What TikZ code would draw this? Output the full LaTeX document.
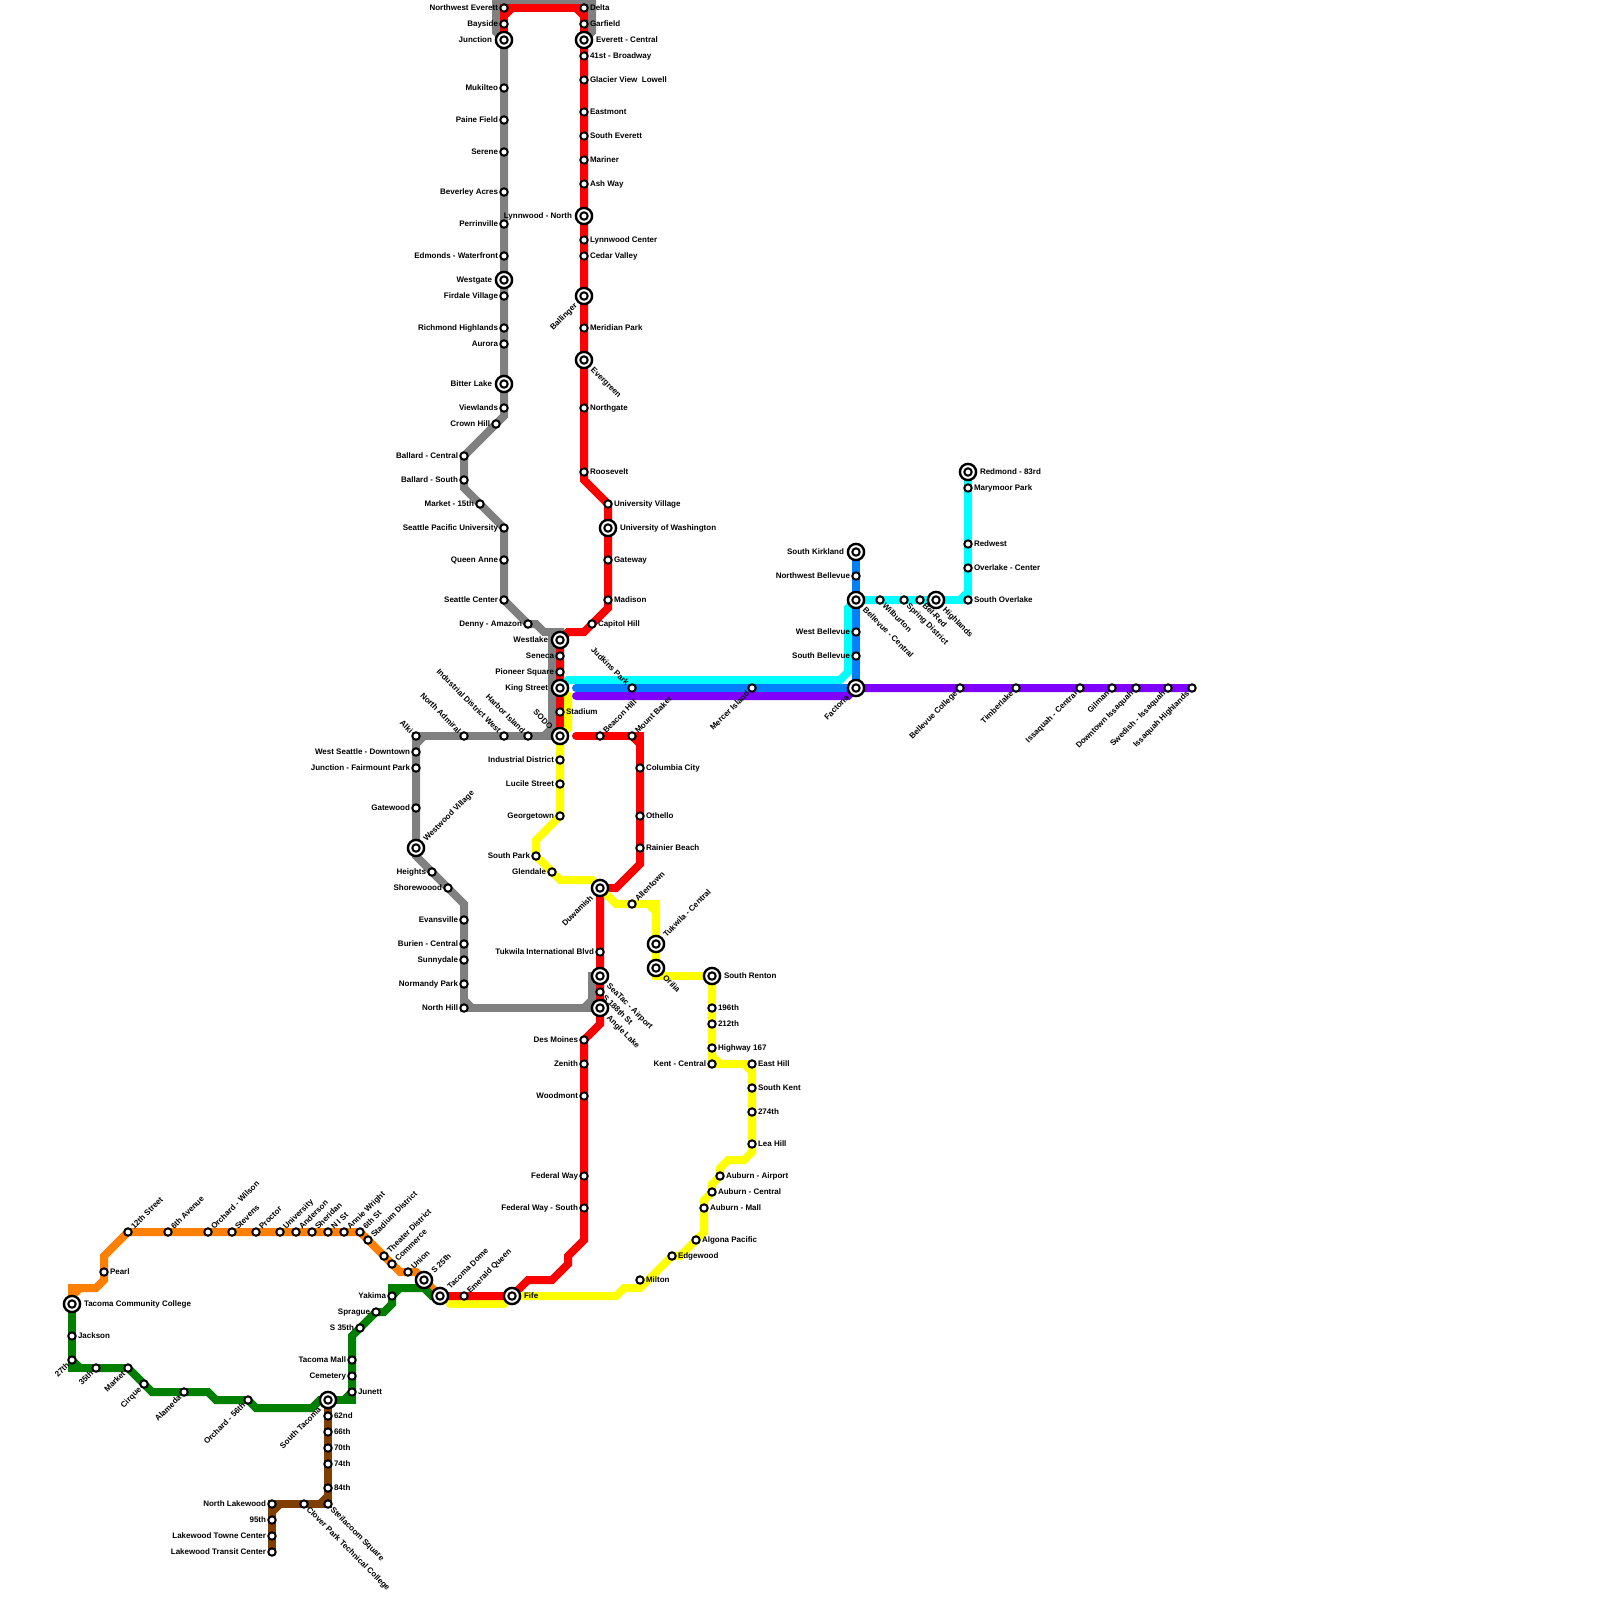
\documentclass[tikz,border=0pt]{standalone}
\usepackage{fontspec}
\setmainfont{Liberation Sans}
\usetikzlibrary{calc}
\definecolor{mblue}{HTML}{007FFF}
\definecolor{mpurple}{HTML}{7F00FF}
\definecolor{morange}{HTML}{FF7F00}
\definecolor{mgreen}{HTML}{007F00}
\definecolor{mbrown}{HTML}{7F3F00}
\definecolor{mred}{HTML}{FF0000}
\definecolor{myellow}{HTML}{FFFF00}
\definecolor{mcyan}{HTML}{00FFFF}
\definecolor{mgray}{HTML}{808080}
\pgfdeclarelayer{lines}
\pgfsetlayers{lines,main}
\tikzset{
  ln/.style={line width=4pt,line join=miter,miter limit=10},
  stopm/.style={circle,draw=black,fill=white,line width=1pt,minimum size=3.7pt,inner sep=0pt,outer sep=0pt},
  ringm/.style={circle,draw=black,fill=white,line width=1.2pt,minimum size=8.1pt,inner sep=0pt,outer sep=0pt},
  lab/.style={font=\fontsize{4}{4.5}\selectfont\bfseries,text=black,inner sep=0pt,outer sep=0pt,text height=2.9pt,text depth=0pt},
  labr/.style={lab,xshift=\lo,yshift=.35pt,anchor=west},
  labl/.style={lab,xshift=-\lo,yshift=.35pt,anchor=east},
  labne/.style={lab,xshift=.707*\lo,yshift=.707*\lo,rotate=45,anchor=west},
  labsw/.style={lab,xshift=-.707*\lo,yshift=-.707*\lo,rotate=45,anchor=east},
  labse/.style={lab,xshift=.707*\lo,yshift=-.707*\lo,rotate=-45,anchor=west},
  labnw/.style={lab,xshift=-.707*\lo,yshift=.707*\lo,rotate=-45,anchor=east},
}
\newcommand\stn[5]{\node[stopm] (#1) at (#2,#3) {};\def\lo{3pt}\node[lab#4] (#1x) at (#2,#3) {#5};}
\newcommand\istn[5]{\node[ringm] (#1o) at (#2,#3) {};\node[stopm] (#1) at (#2,#3) {};\def\lo{6pt}\node[lab#4] (#1x) at (#2,#3) {#5};}
\newcommand\bd[3]{\coordinate (#1) at (#2,#3);}
\newcommand\cutc[4]{\draw[ln,#1] ($(#3)!4pt!(#2)$)--($(#3)!4pt!(#4)$);}
\newcommand\chamf[4]{\draw[ln,#1] (#2)--(#3)--(#4);\cutc{#1}{#2}{#3}{#4}}
\begin{document}
\begin{tikzpicture}[x=.5pt,y=-.5pt]
\useasboundingbox (0,0) rectangle (1600,1600);
% stations: gray
\istn{jct}{504}{40}{l}{Junction}
\stn{muk}{504}{88}{l}{Mukilteo}
\stn{pai}{504}{120}{l}{Paine Field}
\stn{ser}{504}{152}{l}{Serene}
\stn{bev}{504}{192}{l}{Beverley Acres}
\stn{per}{504}{224}{l}{Perrinville}
\stn{edm}{504}{256}{l}{Edmonds - Waterfront}
\istn{wsg}{504}{280}{l}{Westgate}
\stn{fir}{504}{296}{l}{Firdale Village}
\stn{ric}{504}{328}{l}{Richmond Highlands}
\stn{aur}{504}{344}{l}{Aurora}
\istn{bit}{504}{384}{l}{Bitter Lake}
\stn{vie}{504}{408}{l}{Viewlands}
\stn{cro}{496}{424}{l}{Crown Hill}
\stn{bac}{464}{456}{l}{Ballard - Central}
\stn{bas}{464}{480}{l}{Ballard - South}
\stn{mar}{480}{504}{l}{Market - 15th}
\stn{spu}{504}{528}{l}{Seattle Pacific University}
\stn{qan}{504}{560}{l}{Queen Anne}
\stn{sec}{504}{600}{l}{Seattle Center}
\stn{den}{528}{624}{l}{Denny - Amazon}
\istn{wlk}{560}{640}{l}{Westlake}
\stn{sen}{560}{656}{l}{Seneca}
\stn{pio}{560}{672}{l}{Pioneer Square}
\istn{kng}{560}{688}{l}{King Street}
\stn{sta}{560}{712}{r}{Stadium}
\istn{sod}{560}{736}{nw}{SODO}
\stn{har}{528}{736}{nw}{Harbor Island}
\stn{idw}{504}{736}{nw}{Industrial District West}
\stn{nad}{464}{736}{nw}{North Admiral}
\stn{alk}{416}{736}{nw}{Alki}
\stn{wsd}{416}{752}{l}{West Seattle - Downtown}
\stn{jfp}{416}{768}{l}{Junction - Fairmount Park}
\stn{gat}{416}{808}{l}{Gatewood}
\istn{wwv}{416}{848}{ne}{Westwood Village}
\stn{hei}{432}{872}{l}{Heights}
\stn{sho}{448}{888}{l}{Shorewoood}
\stn{eva}{464}{920}{l}{Evansville}
\stn{bur}{464}{944}{l}{Burien - Central}
\stn{sun}{464}{960}{l}{Sunnydale}
\stn{nor}{464}{984}{l}{Normandy Park}
\stn{nhi}{464}{1008}{l}{North Hill}
% stations: red
\stn{nwe}{504}{8}{l}{Northwest Everett}
\stn{bay}{504}{24}{l}{Bayside}
\stn{del}{584}{8}{r}{Delta}
\stn{gar}{584}{24}{r}{Garfield}
\istn{eve}{584}{40}{r}{Everett - Central}
\stn{bfo}{584}{56}{r}{41st - Broadway}
\stn{gla}{584}{80}{r}{Glacier View\ \ Lowell}
\stn{eas}{584}{112}{r}{Eastmont}
\stn{sev}{584}{136}{r}{South Everett}
\stn{mrn}{584}{160}{r}{Mariner}
\stn{ash}{584}{184}{r}{Ash Way}
\istn{lyn}{584}{216}{l}{Lynnwood - North}
\stn{lyc}{584}{240}{r}{Lynnwood Center}
\stn{ced}{584}{256}{r}{Cedar Valley}
\istn{bal}{584}{296}{sw}{Ballinger}
\stn{mer}{584}{328}{r}{Meridian Park}
\istn{evg}{584}{360}{se}{Evergreen}
\stn{nog}{584}{408}{r}{Northgate}
\stn{roo}{584}{472}{r}{Roosevelt}
\stn{uvi}{608}{504}{r}{University Village}
\istn{uwa}{608}{528}{r}{University of Washington}
\stn{gwy}{608}{560}{r}{Gateway}
\stn{mad}{608}{600}{r}{Madison}
\stn{cap}{592}{624}{r}{Capitol Hill}
\stn{bec}{600}{736}{ne}{Beacon Hill}
\stn{mba}{632}{736}{ne}{Mount Baker}
\stn{col}{640}{768}{r}{Columbia City}
\stn{oth}{640}{816}{r}{Othello}
\stn{rai}{640}{848}{r}{Rainier Beach}
\istn{duw}{600}{888}{sw}{Duwamish}
\stn{tib}{600}{952}{l}{Tukwila International Blvd}
\istn{sea}{600}{976}{se}{SeaTac - Airport}
\stn{seh}{600}{992}{se}{S 188th St}
\istn{ang}{600}{1008}{se}{Angle Lake}
\stn{des}{584}{1040}{l}{Des Moines}
\stn{zen}{584}{1064}{l}{Zenith}
\stn{woo}{584}{1096}{l}{Woodmont}
\stn{fed}{584}{1176}{l}{Federal Way}
\stn{fes}{584}{1208}{l}{Federal Way - South}
\istn{fif}{512}{1296}{r}{Fife}
\stn{emq}{464}{1296}{ne}{Emerald Queen}
\istn{tdm}{440}{1296}{ne}{Tacoma Dome}
% stations: yellow
\stn{ind}{560}{760}{l}{Industrial District}
\stn{luc}{560}{784}{l}{Lucile Street}
\stn{geo}{560}{816}{l}{Georgetown}
\stn{spk}{536}{856}{l}{South Park}
\stn{gle}{552}{872}{l}{Glendale}
\stn{all}{632}{904}{ne}{Allentown}
\istn{tuk}{656}{944}{ne}{Tukwila - Central}
\istn{ori}{656}{968}{se}{Orilia}
\istn{sre}{712}{976}{r}{South Renton}
\stn{hnn}{712}{1008}{r}{196th}
\stn{htw}{712}{1024}{r}{212th}
\stn{hwy}{712}{1048}{r}{Highway 167}
\stn{ken}{712}{1064}{l}{Kent - Central}
\stn{eah}{752}{1064}{r}{East Hill}
\stn{sok}{752}{1088}{r}{South Kent}
\stn{tsf}{752}{1112}{r}{274th}
\stn{lea}{752}{1144}{r}{Lea Hill}
\stn{aua}{720}{1176}{r}{Auburn - Airport}
\stn{auc}{712}{1192}{r}{Auburn - Central}
\stn{aum}{704}{1208}{r}{Auburn - Mall}
\stn{alg}{696}{1240}{r}{Algona Pacific}
\stn{edg}{672}{1256}{r}{Edgewood}
\stn{mil}{640}{1280}{r}{Milton}
% stations: cyan, blue, purple
\istn{rmd}{968}{472}{r}{Redmond - 83rd}
\stn{mmp}{968}{488}{r}{Marymoor Park}
\stn{rdw}{968}{544}{r}{Redwest}
\stn{ovc}{968}{568}{r}{Overlake - Center}
\stn{ovs}{968}{600}{r}{South Overlake}
\istn{hig}{936}{600}{se}{Highlands}
\stn{bel}{920}{600}{se}{Bel-Red}
\stn{spd}{904}{600}{se}{Spring District}
\stn{wil}{880}{600}{se}{Wilburton}
\istn{bvc}{856}{600}{se}{Bellevue - Central}
\istn{skk}{856}{552}{l}{South Kirkland}
\stn{nwb}{856}{576}{l}{Northwest Bellevue}
\stn{wbv}{856}{632}{l}{West Bellevue}
\stn{sbv}{856}{656}{l}{South Bellevue}
\istn{fac}{856}{688}{sw}{Factoria}
\stn{mrc}{752}{688}{sw}{Mercer Island}
\stn{jud}{632}{688}{nw}{Judkins Park}
\stn{bcl}{960}{688}{sw}{Bellevue College}
\stn{tim}{1016}{688}{sw}{Timberlake}
\stn{isc}{1080}{688}{sw}{Issaquah - Central}
\stn{gil}{1112}{688}{sw}{Gilman}
\stn{dwn}{1136}{688}{sw}{Downtown Issaquah}
\stn{swe}{1168}{688}{sw}{Swedish - Issaquah}
\stn{ish}{1192}{688}{sw}{Issaquah Highlands}
% stations: orange
\istn{tcc}{72}{1304}{r}{Tacoma Community College}
\stn{prl}{104}{1272}{r}{Pearl}
\stn{twe}{128}{1232}{ne}{12th Street}
\stn{sxa}{168}{1232}{ne}{6th Avenue}
\stn{orw}{208}{1232}{ne}{Orchard - Wilson}
\stn{ste}{232}{1232}{ne}{Stevens}
\stn{pro}{256}{1232}{ne}{Proctor}
\stn{uni}{280}{1232}{ne}{University}
\stn{and}{296}{1232}{ne}{Anderson}
\stn{she}{312}{1232}{ne}{Sheridan}
\stn{nis}{328}{1232}{ne}{N I St}
\stn{awr}{344}{1232}{ne}{Annie Wright}
\stn{sxs}{360}{1232}{ne}{6th St}
\stn{std}{368}{1240}{ne}{Stadium District}
\stn{the}{384}{1256}{ne}{Theater District}
\stn{com}{392}{1264}{ne}{Commerce}
\stn{uon}{408}{1272}{ne}{Union}
\istn{stf}{424}{1280}{ne}{S 25th}
% stations: green
\stn{jac}{72}{1336}{r}{Jackson}
\stn{tws}{72}{1360}{sw}{27th}
\stn{ths}{96}{1368}{sw}{35th}
\stn{mkt}{128}{1368}{sw}{Market}
\stn{cir}{144}{1384}{sw}{Cirque}
\stn{ala}{184}{1392}{sw}{Alameda}
\stn{ofs}{248}{1400}{sw}{Orchard - 56th}
\istn{stc}{328}{1400}{sw}{South Tacoma}
\stn{jun}{352}{1392}{r}{Junett}
\stn{cem}{352}{1376}{l}{Cemetery}
\stn{tma}{352}{1360}{l}{Tacoma Mall}
\stn{sth}{360}{1328}{l}{S 35th}
\stn{spr}{376}{1312}{l}{Sprague}
\stn{yak}{392}{1296}{l}{Yakima}
% stations: brown
\stn{nsa}{328}{1416}{r}{62nd}
\stn{nsb}{328}{1432}{r}{66th}
\stn{nsc}{328}{1448}{r}{70th}
\stn{nsd}{328}{1464}{r}{74th}
\stn{nse}{328}{1488}{r}{84th}
\stn{stl}{328}{1504}{se}{Steilacoom Square}
\stn{clo}{304}{1504}{se}{Clover Park Technical College}
\stn{nlk}{272}{1504}{l}{North Lakewood}
\stn{nnf}{272}{1520}{l}{95th}
\stn{ltw}{272}{1536}{l}{Lakewood Towne Center}
\stn{ltr}{272}{1552}{l}{Lakewood Transit Center}
% bends
\bd{ga}{496}{32}\bd{gb}{496}{0}\bd{gc}{592}{0}\bd{gd}{592}{32}
\bd{ge}{504}{416}\bd{gf}{464}{488}\bd{gg}{536}{624}\bd{gh}{544}{632}\bd{gi}{560}{632}
\bd{gj}{552}{632}\bd{gk}{552}{736}\bd{gl}{416}{856}\bd{gm}{464}{904}
\bd{gn}{584}{1008}\bd{go}{592}{1000}\bd{gp}{592}{976}
\bd{ra}{584}{480}\bd{rb}{608}{608}\bd{rc}{584}{632}\bd{rd}{568}{632}
\bd{re}{576}{736}\bd{rf}{640}{736}\bd{rg}{640}{864}\bd{rh}{616}{888}
\bd{ri}{600}{1024}\bd{rj}{584}{1240}\bd{rk}{568}{1256}\bd{rl}{568}{1264}\bd{rm}{552}{1280}\bd{rn}{528}{1280}
\bd{ya}{568}{696}\bd{yb}{568}{728}\bd{yc}{536}{840}\bd{yd}{560}{880}\bd{ye}{592}{880}\bd{yf}{616}{904}
\bd{yg}{656}{904}\bd{yh}{656}{976}\bd{yi}{752}{1152}\bd{yj}{744}{1160}\bd{yk}{728}{1160}\bd{yl}{720}{1168}
\bd{ym}{712}{1184}\bd{yn}{704}{1200}\bd{yo}{704}{1232}\bd{yp}{680}{1256}\bd{yq}{640}{1288}\bd{yr}{624}{1288}\bd{ys}{616}{1296}
\bd{yt}{450}{1304}\bd{yu}{504}{1304}
\bd{ca}{568}{680}\bd{cb}{840}{680}\bd{cc}{848}{672}\bd{cd}{848}{608}
\bd{ba}{576}{688}\bd{pa}{576}{696}\bd{pb}{848}{696}
\bd{oa}{72}{1288}\bd{ob}{96}{1288}\bd{oc}{104}{1280}\bd{od}{104}{1256}\bd{oe}{400}{1272}\bd{of}{416}{1272}
\bd{na}{72}{1368}\bd{nb}{152}{1392}\bd{nc}{208}{1392}\bd{nd}{216}{1400}\bd{ne}{256}{1408}\bd{nf}{312}{1408}\bd{ng}{320}{1400}
\bd{nh}{352}{1400}\bd{ni}{352}{1336}\bd{nj}{384}{1312}\bd{nk}{392}{1304}\bd{nl}{392}{1288}\bd{nm}{424}{1288}\bd{nn}{432}{1296}
\begin{pgfonlayer}{lines}
\fill[white] (0,0) rectangle (1600,1600);
% gray
\draw[ln,mgray] (jct.center)--(ga)--(gb)--(gc)--(gd)--(eve.center);
\draw[ln,mgray] (jct.center)--(muk.center)--(pai.center)--(ser.center)--(bev.center)--(per.center)--(edm.center)--(wsg.center)--(fir.center)--(ric.center)--(aur.center)--(bit.center)--(vie.center)--(ge)--(cro.center)--(bac.center)--(bas.center)--(gf)--(mar.center)--(spu.center)--(qan.center)--(sec.center)--(den.center)--(gg)--(gh)--(gi)--(wlk.center);
\chamf{mgray}{gj}{gk}{har.center}
\draw[ln,mgray] (sod.center)--(har.center)--(idw.center)--(nad.center);
\chamf{mgray}{nad.center}{alk.center}{wsd.center}
\draw[ln,mgray] (wsd.center)--(jfp.center)--(gat.center)--(wwv.center)--(gl)--(hei.center)--(sho.center)--(gm)--(eva.center)--(bur.center)--(sun.center)--(nor.center);
\chamf{mgray}{nor.center}{nhi.center}{ang.center}
\draw[ln,mgray] (gn)--(go)--(gp)--(sea.center);
% orange
\draw[ln,morange] (tcc.center)--(oa)--(ob)--(oc)--(prl.center)--(od)--(twe.center)--(sxa.center)--(orw.center)--(ste.center)--(pro.center)--(uni.center)--(and.center)--(she.center)--(nis.center)--(awr.center)--(sxs.center)--(std.center)--(the.center)--(com.center)--(oe)--(uon.center)--(of)--(stf.center)--(tdm.center);
\cutc{morange}{tcc.center}{oa}{ob}
% green
\draw[ln,mgreen] (tcc.center)--(jac.center)--(tws.center);
\chamf{mgreen}{tws.center}{na}{ths.center}
\draw[ln,mgreen] (ths.center)--(mkt.center)--(cir.center)--(nb)--(ala.center)--(nc)--(nd)--(ofs.center)--(ne)--(nf)--(ng)--(stc.center);
\chamf{mgreen}{stc.center}{nh}{jun.center}
\draw[ln,mgreen] (jun.center)--(cem.center)--(tma.center)--(ni)--(sth.center)--(spr.center)--(nj)--(nk)--(yak.center)--(nl)--(nm)--(nn)--(tdm.center);
\cutc{mgreen}{yak.center}{nl}{nm}
% brown
\draw[ln,mbrown] (stc.center)--(nsa.center)--(nsb.center)--(nsc.center)--(nsd.center)--(nse.center);
\chamf{mbrown}{nse.center}{stl.center}{clo.center}
\chamf{mbrown}{clo.center}{nlk.center}{nnf.center}
\draw[ln,mbrown] (nnf.center)--(ltw.center)--(ltr.center);
% yellow under red at the double section
\draw[ln,myellow,line cap=round] (yt)--(yu);
% red
\draw[ln,mred] (jct.center)--(bay.center);
\chamf{mred}{bay.center}{nwe.center}{del.center}
\chamf{mred}{nwe.center}{del.center}{gar.center}
\draw[ln,mred] (gar.center)--(eve.center)--(bfo.center)--(gla.center)--(eas.center)--(sev.center)--(mrn.center)--(ash.center)--(lyn.center)--(lyc.center)--(ced.center)--(bal.center)--(mer.center)--(evg.center)--(nog.center)--(roo.center)--(ra)--(uvi.center)--(uwa.center)--(gwy.center)--(mad.center)--(rb)--(cap.center)--(rc)--(rd)--(wlk.center)--(sen.center)--(pio.center)--(kng.center)--(sta.center)--(sod.center);
\draw[ln,mred,line cap=round] (re)--(bec.center)--(mba.center);
\chamf{mred}{mba.center}{rf}{col.center}
\draw[ln,mred] (col.center)--(oth.center)--(rai.center)--(rg)--(rh)--(duw.center)--(tib.center)--(sea.center)--(seh.center)--(ang.center)--(ri)--(des.center)--(zen.center)--(woo.center)--(fed.center)--(fes.center)--(rj)--(rk)--(rl)--(rm)--(rn)--(fif.center)--(emq.center)--(tdm.center);
% yellow
\draw[ln,myellow] (kng.center)--(ya)--(yb)--(sod.center)--(ind.center)--(luc.center)--(geo.center)--(yc)--(spk.center)--(gle.center)--(yd)--(ye)--(duw.center)--(yf)--(all.center);
\chamf{myellow}{all.center}{yg}{tuk.center}
\draw[ln,myellow] (tuk.center)--(ori.center);
\chamf{myellow}{ori.center}{yh}{sre.center}
\draw[ln,myellow] (sre.center)--(hnn.center)--(htw.center)--(hwy.center);
\chamf{myellow}{hwy.center}{ken.center}{eah.center}
\chamf{myellow}{ken.center}{eah.center}{sok.center}
\draw[ln,myellow] (sok.center)--(tsf.center)--(lea.center)--(yi)--(yj)--(yk)--(yl)--(aua.center)--(ym)--(auc.center)--(yn)--(aum.center)--(yo)--(alg.center)--(yp)--(edg.center)--(yq)--(yr)--(ys)--(fif.center);
% cyan
\draw[ln,mcyan] (kng.center)--(ca)--(cb)--(cc)--(cd)--(bvc.center)--(wil.center)--(spd.center)--(bel.center)--(hig.center);
\chamf{mcyan}{hig.center}{ovs.center}{ovc.center}
\draw[ln,mcyan] (ovc.center)--(rdw.center)--(mmp.center)--(rmd.center);
% blue
\draw[ln,mblue,line cap=round] (ba)--(jud.center)--(mrc.center)--(fac.center)--(sbv.center)--(wbv.center)--(bvc.center)--(nwb.center)--(skk.center);
% purple
\draw[ln,mpurple,line cap=round] (pa)--(pb)--(fac.center)--(bcl.center)--(tim.center)--(isc.center)--(gil.center)--(dwn.center)--(swe.center)--(ish.center);
\end{pgfonlayer}
\end{tikzpicture}
\end{document}
